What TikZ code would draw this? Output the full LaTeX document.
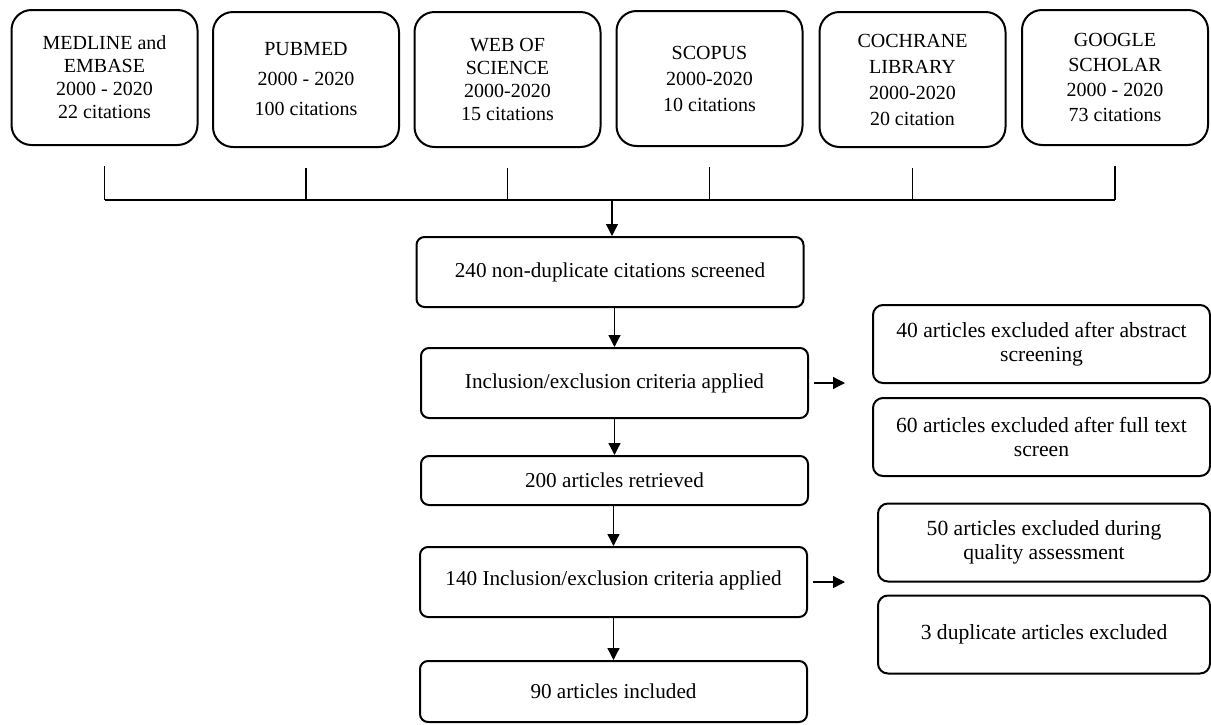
\documentclass[tikz,border=0pt]{standalone}
\usepackage{fontspec}
\setmainfont{Liberation Serif}
\usetikzlibrary{arrows.meta}

\tikzset{
  src/.style={draw, line width=1pt, rounded corners=10pt, align=center, inner sep=0pt,
    minimum width=93pt, minimum height=67.5pt, font=\fontsize{10}{11.5}\selectfont},
  stage/.style={draw, line width=1pt, rounded corners=4pt, align=center, inner sep=0pt,
    minimum width=193.5pt, font=\fontsize{10.6}{13}\selectfont},
  excl/.style={draw, line width=1pt, rounded corners=5pt, align=center, inner sep=0pt,
    minimum width=168.5pt, minimum height=39pt, font=\fontsize{10.8}{12}\selectfont},
  link/.style={line width=0.65pt},
  arr/.style={line width=0.65pt, -{Triangle[length=6pt,width=6pt]}}
}

\begin{document}
\begin{tikzpicture}[x=0.5pt, y=-0.5pt]
\useasboundingbox (0,0) rectangle (1211,724);

% databases
\node[src] (medline) at (104.5,77.5) {MEDLINE and\\EMBASE\\2000 - 2020\\22 citations};
\node[src, font=\fontsize{10}{15}\selectfont] (pubmed) at (306,79.5) {PUBMED\\2000 - 2020\\100 citations};
\node[src] (wos) at (507.5,79.5) {WEB OF\\SCIENCE\\2000-2020\\15 citations};
\node[src, font=\fontsize{10}{13}\selectfont] (scopus) at (709.5,78.5) {SCOPUS\\2000-2020\\10 citations};
\node[src, font=\fontsize{10}{13}\selectfont] (cochrane) at (912.5,79.5) {COCHRANE\\LIBRARY\\2000-2020\\20 citation};
\node[src, font=\fontsize{10}{12.5}\selectfont] (google) at (1115,77.5) {GOOGLE\\SCHOLAR\\2000 - 2020\\73 citations};

% main column
\node[stage, minimum height=35pt] (screen) at (610,272) {240 non-duplicate citations screened};
\node[stage, minimum height=35pt] (incl) at (614.5,383) {Inclusion/exclusion criteria applied};
\node[stage, minimum height=24.5pt] (retr) at (614.5,480.5) {200 articles retrieved};
\node[stage, minimum height=35pt] (incl2) at (613.5,582) {\raisebox{3.5pt}{140 Inclusion/exclusion criteria applied}};
\node[stage, minimum height=30.5pt] (incd) at (613.5,691.5) {90 articles included};

% exclusions
\node[excl] (abs) at (1041.5,344) {40 articles excluded after abstract\\screening};
\node[excl] (full) at (1041.5,437) {60 articles excluded after full text\\screen};
\node[excl, minimum width=166pt] (qual) at (1044,542.5) {50 articles excluded during\\quality assessment};
\node[excl, minimum width=166pt] (dup) at (1044,634.5) {3 duplicate articles excluded};

% bus line
\coordinate (bus) at (612,200);
\foreach \b in {medline,pubmed,wos,scopus,cochrane,google}
  \draw[link] ([yshift=-10pt]\b.south) -- (\b.south |- bus);
\draw[link] (medline.south |- bus) -- (google.south |- bus);

\draw[arr] (bus) -- (bus |- screen.north);
\draw[arr] (incl.north |- screen.south) -- (incl.north);
\draw[arr] (incl) -- (retr);
\draw[arr] (incl2.north |- retr.south) -- (incl2.north);
\draw[arr] (incl2) -- (incd);

\coordinate (tipA) at (845,383);
\coordinate (tipB) at (845,582);
\draw[arr] ([xshift=2.5pt]incl.east) -- (tipA);
\draw[arr] ([xshift=2.5pt]incl2.east) -- (tipB);
\end{tikzpicture}
\end{document}
